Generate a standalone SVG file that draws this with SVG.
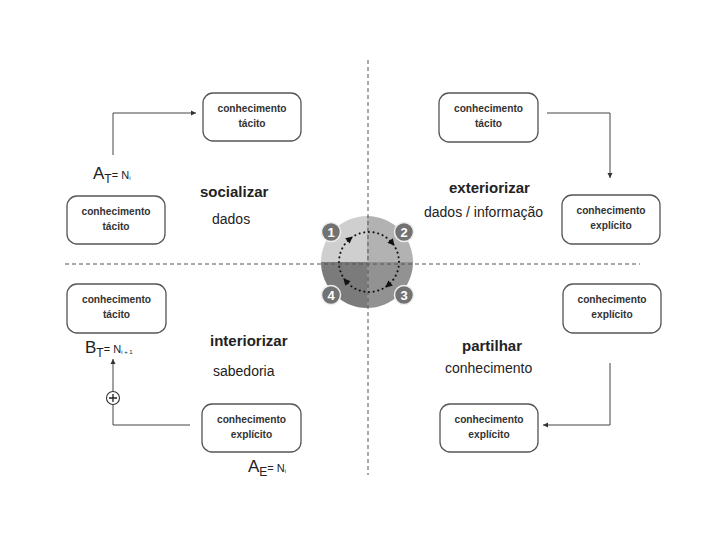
<svg xmlns="http://www.w3.org/2000/svg" width="728" height="546" viewBox="0 0 728 546">
<style>
text{font-family:"Liberation Sans",Arial,sans-serif;fill:#222}
.box{fill:#fff;stroke:#555;stroke-width:1.3}
.bt{font-size:10.2px;font-weight:bold;text-anchor:middle;fill:#333}
.title{font-size:15px;font-weight:bold}
.sub{font-size:14px}
.con{fill:none;stroke:#444;stroke-width:1}
.dash{stroke:#555;stroke-width:1;stroke-dasharray:4 3}
.badge{fill:#727272;stroke:#eee;stroke-width:1.5}
.num{font-size:13px;font-weight:bold;fill:#fff;text-anchor:middle}
</style>
<defs>
<marker id="ah" markerWidth="6" markerHeight="6" refX="5" refY="3" orient="auto" markerUnits="userSpaceOnUse">
<path d="M0,0.5 L5,3 L0,5.5 Z" fill="#333"/>
</marker>
</defs>
<rect width="728" height="546" fill="#fff"/>

<g id="cycle">
<path d="M367,262 L321,262 A46,46 0 0 1 367,216 Z" fill="#cfcfcf"/>
<path d="M367,262 L367,216 A46,46 0 0 1 413,262 Z" fill="#b2b2b2"/>
<path d="M367,262 L413,262 A46,46 0 0 1 367,308 Z" fill="#929292"/>
<path d="M367,262 L367,308 A46,46 0 0 1 321,262 Z" fill="#7b7b7b"/>
</g>

<g id="axes">
<line class="dash" x1="368" y1="60" x2="368" y2="475"/>
<line class="dash" x1="65" y1="264" x2="640" y2="264"/>
</g>

<g id="cycle-ring">
<circle cx="369" cy="262" r="30" fill="none" stroke="#111" stroke-width="2" stroke-linecap="round" stroke-dasharray="0.1 4.6"/>
<path d="M4,0 L-3,-3.5 L-3,3.5 Z" fill="#111" transform="translate(349.7,239) rotate(-40)"/>
<path d="M4,0 L-3,-3.5 L-3,3.5 Z" fill="#111" transform="translate(392,242.7) rotate(50)"/>
<path d="M4,0 L-3,-3.5 L-3,3.5 Z" fill="#111" transform="translate(388.3,285) rotate(140)"/>
<path d="M4,0 L-3,-3.5 L-3,3.5 Z" fill="#111" transform="translate(346,281.3) rotate(230)"/>
</g>

<g id="badges">
<circle class="badge" cx="331" cy="232" r="9.5"/><text class="num" x="331" y="236.5">1</text>
<circle class="badge" cx="404" cy="232" r="9.5"/><text class="num" x="404" y="236.5">2</text>
<circle class="badge" cx="404" cy="295" r="9.5"/><text class="num" x="404" y="299.5">3</text>
<circle class="badge" cx="331" cy="295" r="9.5"/><text class="num" x="331" y="299.5">4</text>
</g>

<g id="connectors">
<path class="con" d="M113,155 L113,113 L196,113" marker-end="url(#ah)"/>
<path class="con" d="M547,113 L610,113 L610,178" marker-end="url(#ah)"/>
<path class="con" d="M610,363 L610,425 L543,425" marker-end="url(#ah)"/>
<path class="con" d="M190,425 L113,425 L113,359" marker-end="url(#ah)"/>
<circle cx="113" cy="398" r="6.5" fill="#fff" stroke="#333" stroke-width="1.1"/>
<path d="M109,398 H117 M113,394 V402" stroke="#222" stroke-width="1.3"/>
</g>

<g id="n1"><rect class="box" x="203" y="93" width="98" height="48" rx="10"/><text class="bt" x="252" y="112">conhecimento</text><text class="bt" x="252" y="127">tácito</text></g>
<g id="n2"><rect class="box" x="67" y="196" width="98" height="48" rx="10"/><text class="bt" x="116" y="215">conhecimento</text><text class="bt" x="116" y="230">tácito</text></g>
<g id="n3"><rect class="box" x="439" y="93" width="99" height="49" rx="10"/><text class="bt" x="488.5" y="112">conhecimento</text><text class="bt" x="488.5" y="127">tácito</text></g>
<g id="n4"><rect class="box" x="562" y="195" width="98" height="49" rx="10"/><text class="bt" x="611" y="214">conhecimento</text><text class="bt" x="611" y="229">explícito</text></g>
<g id="n5"><rect class="box" x="67" y="284" width="99" height="49" rx="10"/><text class="bt" x="116.5" y="303">conhecimento</text><text class="bt" x="116.5" y="318">tácito</text></g>
<g id="n6"><rect class="box" x="202" y="404" width="99" height="48" rx="10"/><text class="bt" x="251.5" y="423">conhecimento</text><text class="bt" x="251.5" y="438">explícito</text></g>
<g id="n7"><rect class="box" x="563" y="284" width="98" height="49" rx="10"/><text class="bt" x="612" y="303">conhecimento</text><text class="bt" x="612" y="318">explícito</text></g>
<g id="n8"><rect class="box" x="440" y="404" width="98" height="48" rx="10"/><text class="bt" x="489" y="423">conhecimento</text><text class="bt" x="489" y="438">explícito</text></g>

<g id="labels">
<text class="title" x="200" y="197">socializar</text>
<text class="sub" x="212" y="224">dados</text>
<text class="title" x="449" y="193">exteriorizar</text>
<text class="sub" x="424" y="217">dados / informação</text>
<text class="title" x="462" y="351">partilhar</text>
<text class="sub" x="445" y="373">conhecimento</text>
<text class="title" x="210" y="346">interiorizar</text>
<text class="sub" x="213" y="376">sabedoria</text>

<text x="93" y="179"><tspan style="font-size:17px">A</tspan><tspan style="font-size:12px" dy="4">T</tspan><tspan style="font-size:11px" dy="-4">= N</tspan><tspan style="font-size:6px" dy="1">i</tspan></text>
<text x="85" y="353"><tspan style="font-size:17px">B</tspan><tspan style="font-size:12px" dy="4">T</tspan><tspan style="font-size:11px" dy="-4">= N</tspan><tspan style="font-size:6px" dy="1">i + 1</tspan></text>
<text x="248" y="472"><tspan style="font-size:17px">A</tspan><tspan style="font-size:12px" dy="4">E</tspan><tspan style="font-size:11px" dy="-4">= N</tspan><tspan style="font-size:6px" dy="1">i</tspan></text>
</g>
</svg>
